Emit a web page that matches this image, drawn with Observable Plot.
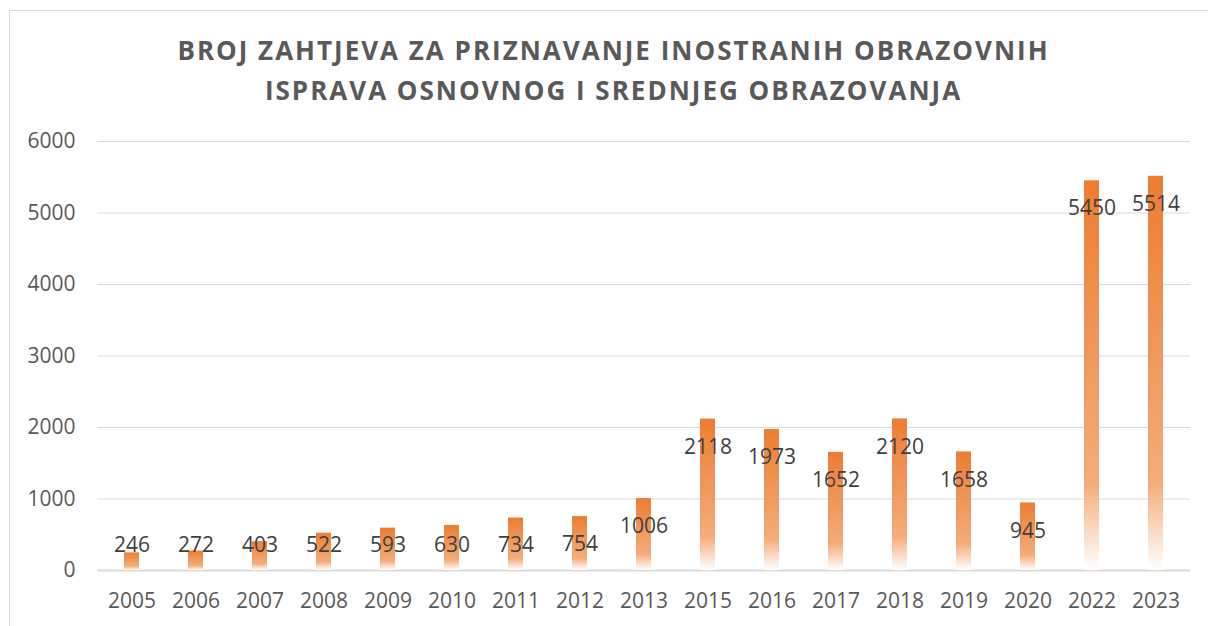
<!DOCTYPE html>
<html>
<head>
<meta charset="utf-8">
<script src="https://cdn.jsdelivr.net/npm/d3@7"></script>
<script src="https://cdn.jsdelivr.net/npm/@observablehq/plot@0.6"></script>
<style>
  html, body { margin: 0; padding: 0; background: #fff; overflow: hidden; width: 1208px; height: 626px; }
  #frame { position: absolute; left: 9px; top: 10px; width: 1230px; height: 660px; border: 1.5px solid #D9D9D9; box-sizing: border-box; }
  #title { position: absolute; left: 0; width: 1227px; top: 30px; text-align: center; font-family: "Open Sans", sans-serif; font-weight: 700; font-size: 26px; line-height: 40px; letter-spacing: 2px; color: #595959; }
  #chart { position: absolute; left: 0; top: 0; }
</style>
</head>
<body>
<div id="frame"></div>
<div id="title">BROJ ZAHTJEVA ZA PRIZNAVANJE INOSTRANIH OBRAZOVNIH<br>ISPRAVA OSNOVNOG I SREDNJEG OBRAZOVANJA</div>
<div id="chart"></div>
<script>
const years = ["2005","2006","2007","2008","2009","2010","2011","2012","2013","2015","2016","2017","2018","2019","2020","2022","2023"];
const values = [246,272,403,522,593,630,734,754,1006,2118,1973,1652,2120,1658,945,5450,5514];
const yTicks = [0,1000,2000,3000,4000,5000,6000];

const data = years.map((y, i) => ({year: y, value: values[i]}));

const chart = Plot.plot({
  width: 1208,
  height: 626,
  marginLeft: 97,
  marginRight: 18,
  marginTop: 141,
  marginBottom: 56,
  style: {fontFamily: "'Open Sans', sans-serif", fontSize: "21px", color: "#595959", background: "transparent"},
  x: {domain: years, paddingInner: 0.767, paddingOuter: 0.383, label: null, tickSize: 0, tickPadding: 23},
  y: {domain: [0, 6000], ticks: yTicks, tickFormat: d => String(d), label: null, tickSize: 0, tickPadding: 22},
  marks: [
    Plot.gridY(yTicks.filter(t => t > 0), {stroke: "#D9D9D9", strokeOpacity: 1, strokeWidth: 1.2}),
    Plot.ruleY([0], {stroke: "#D9D9D9", strokeWidth: 1.8}),
    Plot.barY(data, {x: "year", y: "value", fill: "url(#barGrad)"}),
    Plot.text(data, {
      x: "year",
      y: d => Math.max(d.value - 390, 350),
      text: d => String(d.value),
      fill: "#404040",
      fontSize: 21
    })
  ]
});

const ns = "http://www.w3.org/2000/svg";
const defs = document.createElementNS(ns, "defs");
const grad = document.createElementNS(ns, "linearGradient");
grad.setAttribute("id", "barGrad");
grad.setAttribute("x1", "0"); grad.setAttribute("y1", "0");
grad.setAttribute("x2", "0"); grad.setAttribute("y2", "1");
[["0", "#ED7D31"], ["0.78", "#F3AD7B"], ["1", "#FFFFFF"]].forEach(([o, c]) => {
  const s = document.createElementNS(ns, "stop");
  s.setAttribute("offset", o);
  s.setAttribute("stop-color", c);
  grad.appendChild(s);
});
defs.appendChild(grad);
chart.insertBefore(defs, chart.firstChild);

document.getElementById("chart").appendChild(chart);
</script>
</body>
</html>
